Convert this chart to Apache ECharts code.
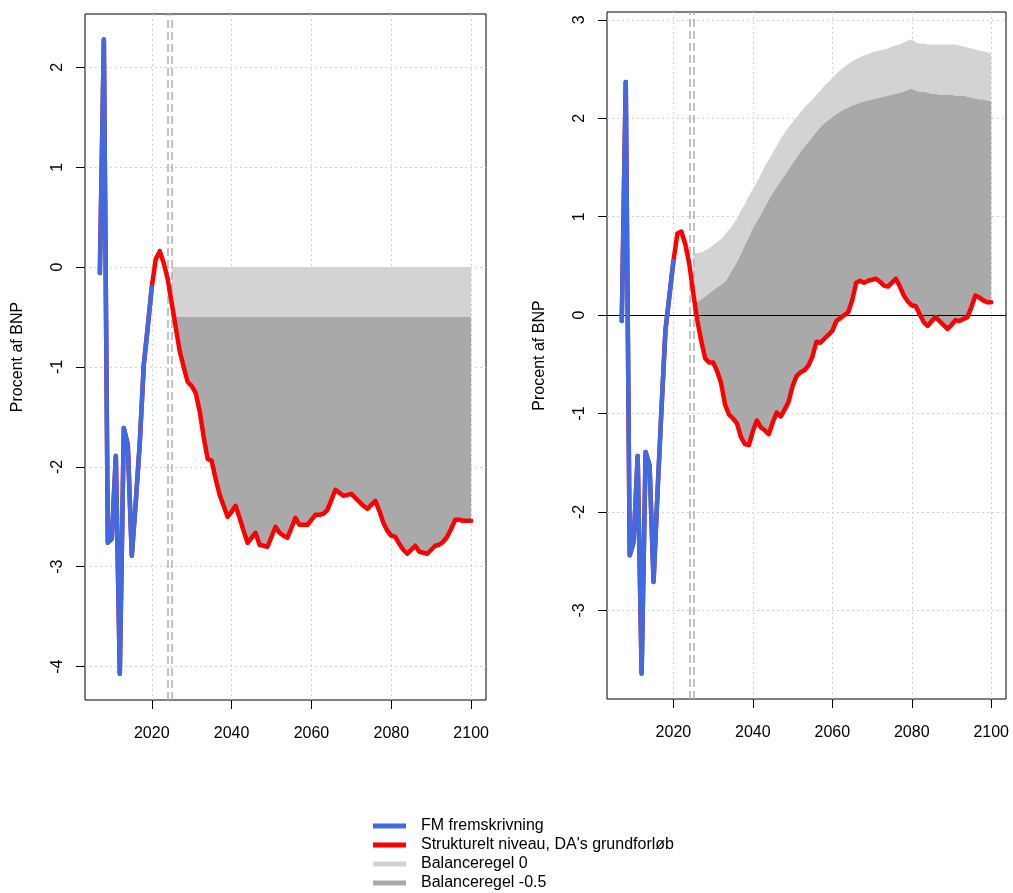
<!DOCTYPE html>
<html>
<head>
<meta charset="utf-8">
<script src="https://cdn.jsdelivr.net/npm/echarts@6/dist/echarts.min.js"></script>
<style>
  html, body { margin: 0; padding: 0; background: #fff; }
  #chart { width: 1013px; height: 893px; }
</style>
</head>
<body>
<div id="chart"></div>
<script>
// years
const histYears = [2007, 2008, 2009, 2010, 2011, 2012, 2013, 2014, 2015, 2016, 2017, 2018, 2019, 2020];
const projYears = [];
for (let y = 2021; y <= 2100; y++) projYears.push(y);
const bandYears = projYears.filter(y => y >= 2025);
const xTicks = [2020, 2040, 2060, 2080, 2100];
const leftYTicks = [-4, -3, -2, -1, 0, 1, 2];
const rightYTicks = [-3, -2, -1, 0, 1, 2, 3];
const vLines = [2024, 2025];

// venstre panel
const leftFM = [-0.06, 2.28, -2.76, -2.72, -1.89, -4.07, -1.61, -1.78, -2.89, -2.35, -1.76, -0.98, -0.6, -0.2];
const leftStructProj = [
  0.08, 0.16, 0.04, -0.12, -0.36, -0.6, -0.84, -1.0, -1.15,
  -1.19, -1.26, -1.44, -1.7, -1.92, -1.94, -2.12, -2.28, -2.39, -2.5,
  -2.45, -2.39, -2.51, -2.64, -2.76, -2.71, -2.66, -2.78, -2.79, -2.8,
  -2.7, -2.6, -2.66, -2.69, -2.71, -2.61, -2.51, -2.58, -2.58, -2.58,
  -2.53, -2.48, -2.48, -2.47, -2.43, -2.33, -2.23, -2.26, -2.29, -2.28,
  -2.27, -2.31, -2.35, -2.39, -2.42, -2.38, -2.34, -2.44, -2.56, -2.64,
  -2.69, -2.7, -2.77, -2.83, -2.87, -2.83, -2.79, -2.85, -2.86, -2.87,
  -2.83, -2.79, -2.78, -2.75, -2.7, -2.62, -2.53, -2.53, -2.54, -2.54,
  -2.54
];
const leftRule0 = 0;
const leftRuleM05 = -0.5;

// højre panel
const rightFM = [-0.06, 2.37, -2.44, -2.3, -1.43, -3.64, -1.39, -1.53, -2.71, -1.8, -0.95, -0.15, 0.2, 0.55];
const rightStructProj = [
  0.83, 0.85, 0.72, 0.52, 0.22, -0.05, -0.26, -0.44, -0.48,
  -0.48, -0.57, -0.69, -0.91, -1.01, -1.05, -1.1, -1.24, -1.31, -1.32,
  -1.18, -1.07, -1.14, -1.17, -1.21, -1.09, -0.99, -1.03, -0.96, -0.88,
  -0.72, -0.62, -0.58, -0.56, -0.51, -0.42, -0.27, -0.28, -0.24, -0.2,
  -0.16, -0.06, -0.03, 0.0, 0.03, 0.15, 0.33, 0.35, 0.33, 0.35,
  0.36, 0.37, 0.34, 0.3, 0.29, 0.33, 0.37, 0.29, 0.2, 0.14,
  0.1, 0.09, 0.01, -0.07, -0.11, -0.06, -0.02, -0.06, -0.1, -0.14,
  -0.1, -0.05, -0.06, -0.04, -0.02, 0.08, 0.2, 0.18, 0.15, 0.13,
  0.13
];
// Balanceregel -0.5 (mørk) og 0 (lys), 2025-2100
const rightRuleM05 = [
  0.12, 0.13, 0.16, 0.19, 0.22,
  0.25, 0.28, 0.31, 0.34, 0.4, 0.47, 0.54, 0.62, 0.71, 0.79,
  0.88, 0.95, 1.02, 1.1, 1.17, 1.24, 1.3, 1.36, 1.42, 1.48,
  1.54, 1.6, 1.66, 1.71, 1.76, 1.81, 1.86, 1.91, 1.95, 1.98,
  2.01, 2.04, 2.07, 2.09, 2.11, 2.13, 2.14, 2.16, 2.17, 2.18,
  2.19, 2.2, 2.21, 2.22, 2.23, 2.24, 2.25, 2.26, 2.27, 2.29,
  2.3, 2.28, 2.27, 2.27, 2.26, 2.25, 2.25, 2.24, 2.24, 2.24,
  2.24, 2.23, 2.23, 2.23, 2.22, 2.21, 2.2, 2.19, 2.19, 2.18,
  2.17
];
const rightRule0 = [
  0.63, 0.63, 0.64, 0.66, 0.68,
  0.71, 0.74, 0.77, 0.82, 0.87, 0.92, 0.98, 1.06, 1.13, 1.21,
  1.28, 1.35, 1.43, 1.51, 1.58, 1.65, 1.72, 1.79, 1.85, 1.91,
  1.96, 2.01, 2.06, 2.11, 2.15, 2.19, 2.24, 2.28, 2.33, 2.37,
  2.41, 2.45, 2.49, 2.52, 2.55, 2.58, 2.6, 2.62, 2.64, 2.65,
  2.67, 2.68, 2.69, 2.7, 2.71, 2.73, 2.74, 2.75, 2.77, 2.79,
  2.8, 2.77, 2.76, 2.76, 2.75, 2.75, 2.75, 2.75, 2.75, 2.75,
  2.75, 2.75, 2.74, 2.73, 2.72, 2.71, 2.7, 2.69, 2.68, 2.67,
  2.66
];

const NAME_FM = 'FM fremskrivning';
const NAME_STRUCT = "Strukturelt niveau, DA's grundforløb";
const NAME_B0 = 'Balanceregel 0';
const NAME_B05 = 'Balanceregel -0.5';
const FONT = 'Liberation Sans, Arial, sans-serif';
const LIGHT = '#d3d3d3';
const DARK = '#a9a9a9';

function pairs(xs, ys) {
  return xs.map((x, i) => [x, ys[i]]);
}

// fyldt bånd mellem lower og upper, tegnet som én polygon via aksernes skala
function bandSeries(name, gi, years, lower, upper, color) {
  const rows = years.map((y, i) => [y, lower[i], upper[i]]);
  return {
    name: name, type: 'custom', xAxisIndex: gi, yAxisIndex: gi,
    z: 2, silent: true, clip: true,
    data: rows,
    encode: { x: 0, y: [1, 2] },
    itemStyle: { color: color },
    renderItem: function (params, api) {
      if (params.dataIndex !== 0) return null;
      const top = rows.map(r => api.coord([r[0], r[2]]));
      const bottom = rows.map(r => api.coord([r[0], r[1]])).reverse();
      return {
        type: 'polygon',
        shape: { points: top.concat(bottom) },
        style: { fill: color, stroke: null }
      };
    }
  };
}

function panelSeries(gi, fm, structProj, rule0, ruleM05, withZero) {
  const struct = fm.concat(structProj);
  const structYears = histYears.concat(projYears);
  const structBand = structProj.slice(projYears.indexOf(2025));
  const out = [];
  out.push(bandSeries(NAME_B0, gi, bandYears, ruleM05, rule0, LIGHT));
  out.push(bandSeries(NAME_B05, gi, bandYears, structBand, ruleM05, DARK));
  const marks = vLines.map(v => ({ xAxis: v, lineStyle: { color: '#b0b0b0', type: [8, 4], width: 1.5 } }));
  if (withZero) marks.push({ yAxis: 0, lineStyle: { color: '#000', type: 'solid', width: 1 } });
  out.push({
    name: NAME_STRUCT, type: 'line', xAxisIndex: gi, yAxisIndex: gi,
    data: pairs(structYears, struct), symbol: 'none', z: 10,
    itemStyle: { color: '#ff0000' },
    lineStyle: { color: '#ff0000', width: 4.5, join: 'round', cap: 'round' },
    markLine: { silent: true, symbol: ['none', 'none'], label: { show: false }, z: 5, animation: false, data: marks }
  });
  out.push({
    name: NAME_FM, type: 'line', xAxisIndex: gi, yAxisIndex: gi,
    data: pairs(histYears, fm), symbol: 'none', z: 11,
    itemStyle: { color: '#4169e1' },
    lineStyle: { color: '#4169e1', width: 4.5, join: 'round', cap: 'round' }
  });
  return out;
}

const leftRule0Arr = bandYears.map(() => leftRule0);
const leftRuleM05Arr = bandYears.map(() => leftRuleM05);

function xAxisDef(gi) {
  return {
    type: 'value', gridIndex: gi, min: 2003.28, max: 2103.72,
    axisLine: { show: false, onZero: false },
    axisTick: { show: true, customValues: xTicks, length: 9, lineStyle: { color: '#000' } },
    axisLabel: {
      customValues: xTicks, fontSize: 16, color: '#000', fontFamily: FONT, margin: 26,
      formatter: v => String(v)
    },
    splitLine: { show: true, lineStyle: { color: LIGHT, type: [2, 3], width: 1 } }
  };
}
function yAxisDef(gi, min, max, ticks) {
  return {
    type: 'value', gridIndex: gi, min: min, max: max,
    name: 'Procent af BNP', nameLocation: 'middle', nameGap: 59,
    nameTextStyle: { fontSize: 16, color: '#000', fontFamily: FONT },
    axisLine: { show: false, onZero: false },
    axisTick: { show: true, customValues: ticks, length: 9, lineStyle: { color: '#000' } },
    axisLabel: { customValues: ticks, rotate: 90, fontSize: 16, color: '#000', fontFamily: FONT, margin: 19 },
    splitLine: { show: true, lineStyle: { color: LIGHT, type: [2, 3], width: 1 } }
  };
}

const chart = echarts.init(document.getElementById('chart'), null, { renderer: 'canvas' });
chart.setOption({
  animation: false,
  backgroundColor: '#fff',
  textStyle: { fontFamily: FONT },
  grid: [
    { left: 85, top: 14, width: 401, height: 686, show: true, borderColor: '#000', borderWidth: 1 },
    { left: 607, top: 12, width: 399, height: 687, show: true, borderColor: '#000', borderWidth: 1 }
  ],
  xAxis: [xAxisDef(0), xAxisDef(1)],
  yAxis: [
    yAxisDef(0, -4.3344, 2.5344, leftYTicks),
    yAxisDef(1, -3.9, 3.08, rightYTicks)
  ],
  legend: {
    orient: 'vertical', left: 373, top: 818, padding: 0,
    itemWidth: 33, itemHeight: 5, itemGap: 3,
    selectedMode: false,
    textStyle: { fontSize: 16, color: '#000', fontFamily: FONT, padding: [0, 0, 0, 10] },
    data: [
      { name: NAME_FM, icon: 'rect', itemStyle: { color: '#4169e1' } },
      { name: NAME_STRUCT, icon: 'rect', itemStyle: { color: '#ff0000' } },
      { name: NAME_B0, icon: 'rect', itemStyle: { color: LIGHT } },
      { name: NAME_B05, icon: 'rect', itemStyle: { color: DARK } }
    ]
  },
  series: [].concat(
    panelSeries(0, leftFM, leftStructProj, leftRule0Arr, leftRuleM05Arr, false),
    panelSeries(1, rightFM, rightStructProj, rightRule0, rightRuleM05, true)
  )
});
</script>
</body>
</html>
